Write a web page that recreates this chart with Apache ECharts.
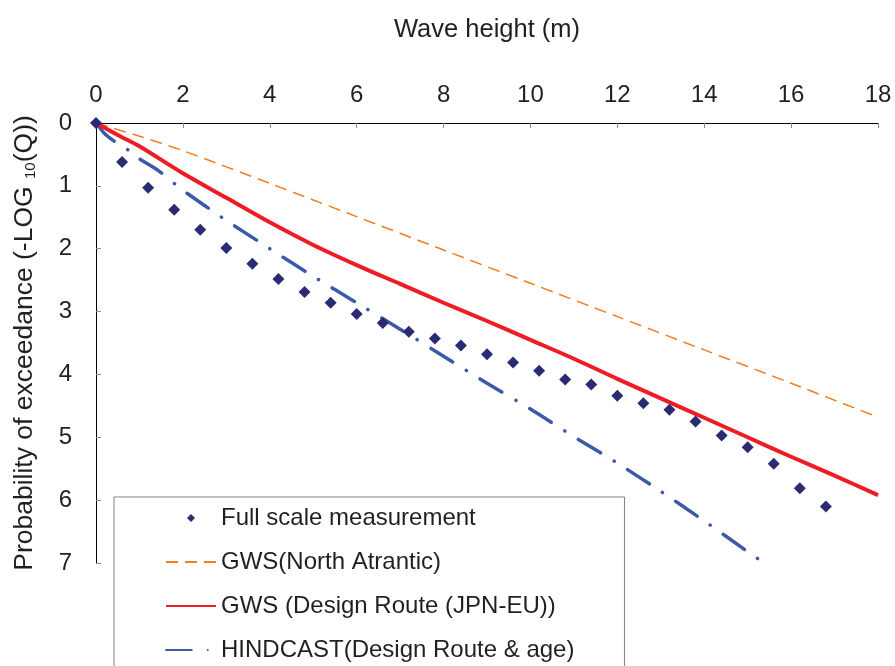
<!DOCTYPE html>
<html><head><meta charset="utf-8">
<script src="https://cdn.jsdelivr.net/npm/echarts@6/dist/echarts.min.js"></script>
<style>html,body{margin:0;padding:0;background:#fff}#c{width:895px;height:666px}</style>
</head><body><div id="c"></div>
<script>
// Full scale measurement (diamonds)
const measX = [0,0.6,1.2,1.8,2.4,3.0,3.6,4.2,4.8,5.4,6.0,6.6,7.2,7.8,8.4,9.0,9.6,10.2,10.8,11.4,12.0,12.6,13.2,13.8,14.4,15.0,15.6,16.2,16.8];
const measY = [0,0.62,1.03,1.38,1.70,1.99,2.24,2.48,2.69,2.86,3.04,3.18,3.32,3.43,3.54,3.68,3.81,3.94,4.08,4.16,4.34,4.46,4.56,4.75,4.97,5.16,5.42,5.81,6.10];
// GWS (North Atrantic)
const naX = [0,1,2,4,6,8,10,12,14,16,18];
const naY = [0,0.21,0.44,0.96,1.49,2.02,2.55,3.08,3.61,4.14,4.68];
// GWS (Design Route (JPN-EU))
const drX = [0,0.5,1,2,3,4,5,6,7,8,9,10,11,12,13,14,15,16,17,18];
const drY = [0,0.19,0.37,0.80,1.19,1.58,1.94,2.26,2.56,2.86,3.15,3.45,3.75,4.07,4.38,4.69,5.00,5.31,5.61,5.92];
// HINDCAST (Design Route & age)
const hcX = [0,0.2,0.46,0.74,1,1.42,2,3,4,5,6,7,8,9,10,11,12,13,14,15,15.44];
const hcY = [0,0.17,0.31,0.43,0.57,0.75,1.07,1.55,2.00,2.44,2.86,3.28,3.71,4.14,4.55,4.99,5.41,5.86,6.33,6.82,7.03];

const seriesNames = ['Full scale measurement','GWS(North Atrantic)','GWS (Design Route (JPN-EU))','HINDCAST(Design Route & age)'];
const xAxisName = 'Wave height (m)';
const yAxisName = 'Probability of exceedance (-LOG {s|10}(Q))';

const FONT = "'Liberation Sans', Arial, Helvetica, sans-serif";
const TXT = '#231F20';
const zip = (xs, ys) => xs.map((x, i) => [x, ys[i]]);
const noSym = {color: 'rgba(0,0,0,0)', borderColor: 'rgba(0,0,0,0)', borderWidth: 0, opacity: 0};

const chart = echarts.init(document.getElementById('c'), null, {renderer: 'canvas'});
chart.setOption({
  animation: false,
  backgroundColor: '#fff',
  textStyle: {fontFamily: FONT},
  grid: {left: 96, top: 123, right: 17, bottom: 103, containLabel: false},
  xAxis: {
    type: 'value', position: 'top', min: 0, max: 18, interval: 2,
    name: xAxisName, nameLocation: 'middle', nameGap: 80,
    nameTextStyle: {fontSize: 25.5, color: TXT, fontFamily: FONT},
    axisLine: {show: true, onZero: false, lineStyle: {color: '#000', width: 1}},
    axisTick: {show: true, inside: true, length: 5, lineStyle: {color: '#888', width: 1}},
    axisLabel: {fontSize: 24, color: TXT, fontFamily: FONT, margin: 16},
    splitLine: {show: false}
  },
  yAxis: {
    type: 'value', inverse: true, min: 0, max: 7, interval: 1,
    name: yAxisName, nameLocation: 'middle', nameGap: 58,
    nameTextStyle: {fontSize: 26.5, color: TXT, fontFamily: FONT,
      rich: {s: {fontSize: 15, color: TXT, fontFamily: FONT, verticalAlign: 'bottom'}}},
    axisLine: {show: true, onZero: false, lineStyle: {color: '#000', width: 1}},
    axisTick: {show: true, inside: true, length: 5, lineStyle: {color: '#888', width: 1}},
    axisLabel: {fontSize: 24, color: TXT, fontFamily: FONT, margin: 24},
    splitLine: {show: false}
  },
  legend: {
    orient: 'vertical', left: 114, top: 497, height: 400, width: 600,
    padding: [9, 50, 30, 51],
    itemWidth: 50, itemHeight: 24, itemGap: 20,
    backgroundColor: '#fff', borderColor: '#808080', borderWidth: 1, borderRadius: 0,
    selectedMode: false,
    textStyle: {fontSize: 24, color: TXT, fontFamily: FONT, lineHeight: 24},
    data: [
      {name: seriesNames[0], icon: 'path://M0,0M24,24M12,8L16,12L12,16L8,12Z', itemStyle: {opacity: 1}},
      {name: seriesNames[1], itemStyle: noSym},
      {name: seriesNames[2], itemStyle: noSym},
      {name: seriesNames[3], itemStyle: noSym}
    ]
  },
  series: [
    {
      name: seriesNames[3], type: 'line', data: zip(hcX, hcY), symbol: 'none', smooth: 0.2,
      color: '#3A5BA9',
      lineStyle: {color: '#3A5BA9', width: 3.5, type: [25.7, 16, 0.1, 16], cap: 'round'}, z: 3
    },
    {
      name: seriesNames[1], type: 'line', data: zip(naX, naY), symbol: 'none', smooth: 0.3,
      color: '#F47D20',
      lineStyle: {color: '#F47D20', width: 1.5, type: [12, 7]}, z: 3
    },
    {
      name: seriesNames[2], type: 'line', data: zip(drX, drY), symbol: 'none', smooth: 0.3,
      color: '#EE1C25',
      lineStyle: {color: '#EE1C25', width: 4}, z: 4
    },
    {
      name: seriesNames[0], type: 'scatter', data: zip(measX, measY), symbol: 'diamond', symbolSize: 12,
      color: '#2B2B73', itemStyle: {color: '#2B2B73', opacity: 1}, clip: false, z: 5
    }
  ]
});
</script>
</body></html>
